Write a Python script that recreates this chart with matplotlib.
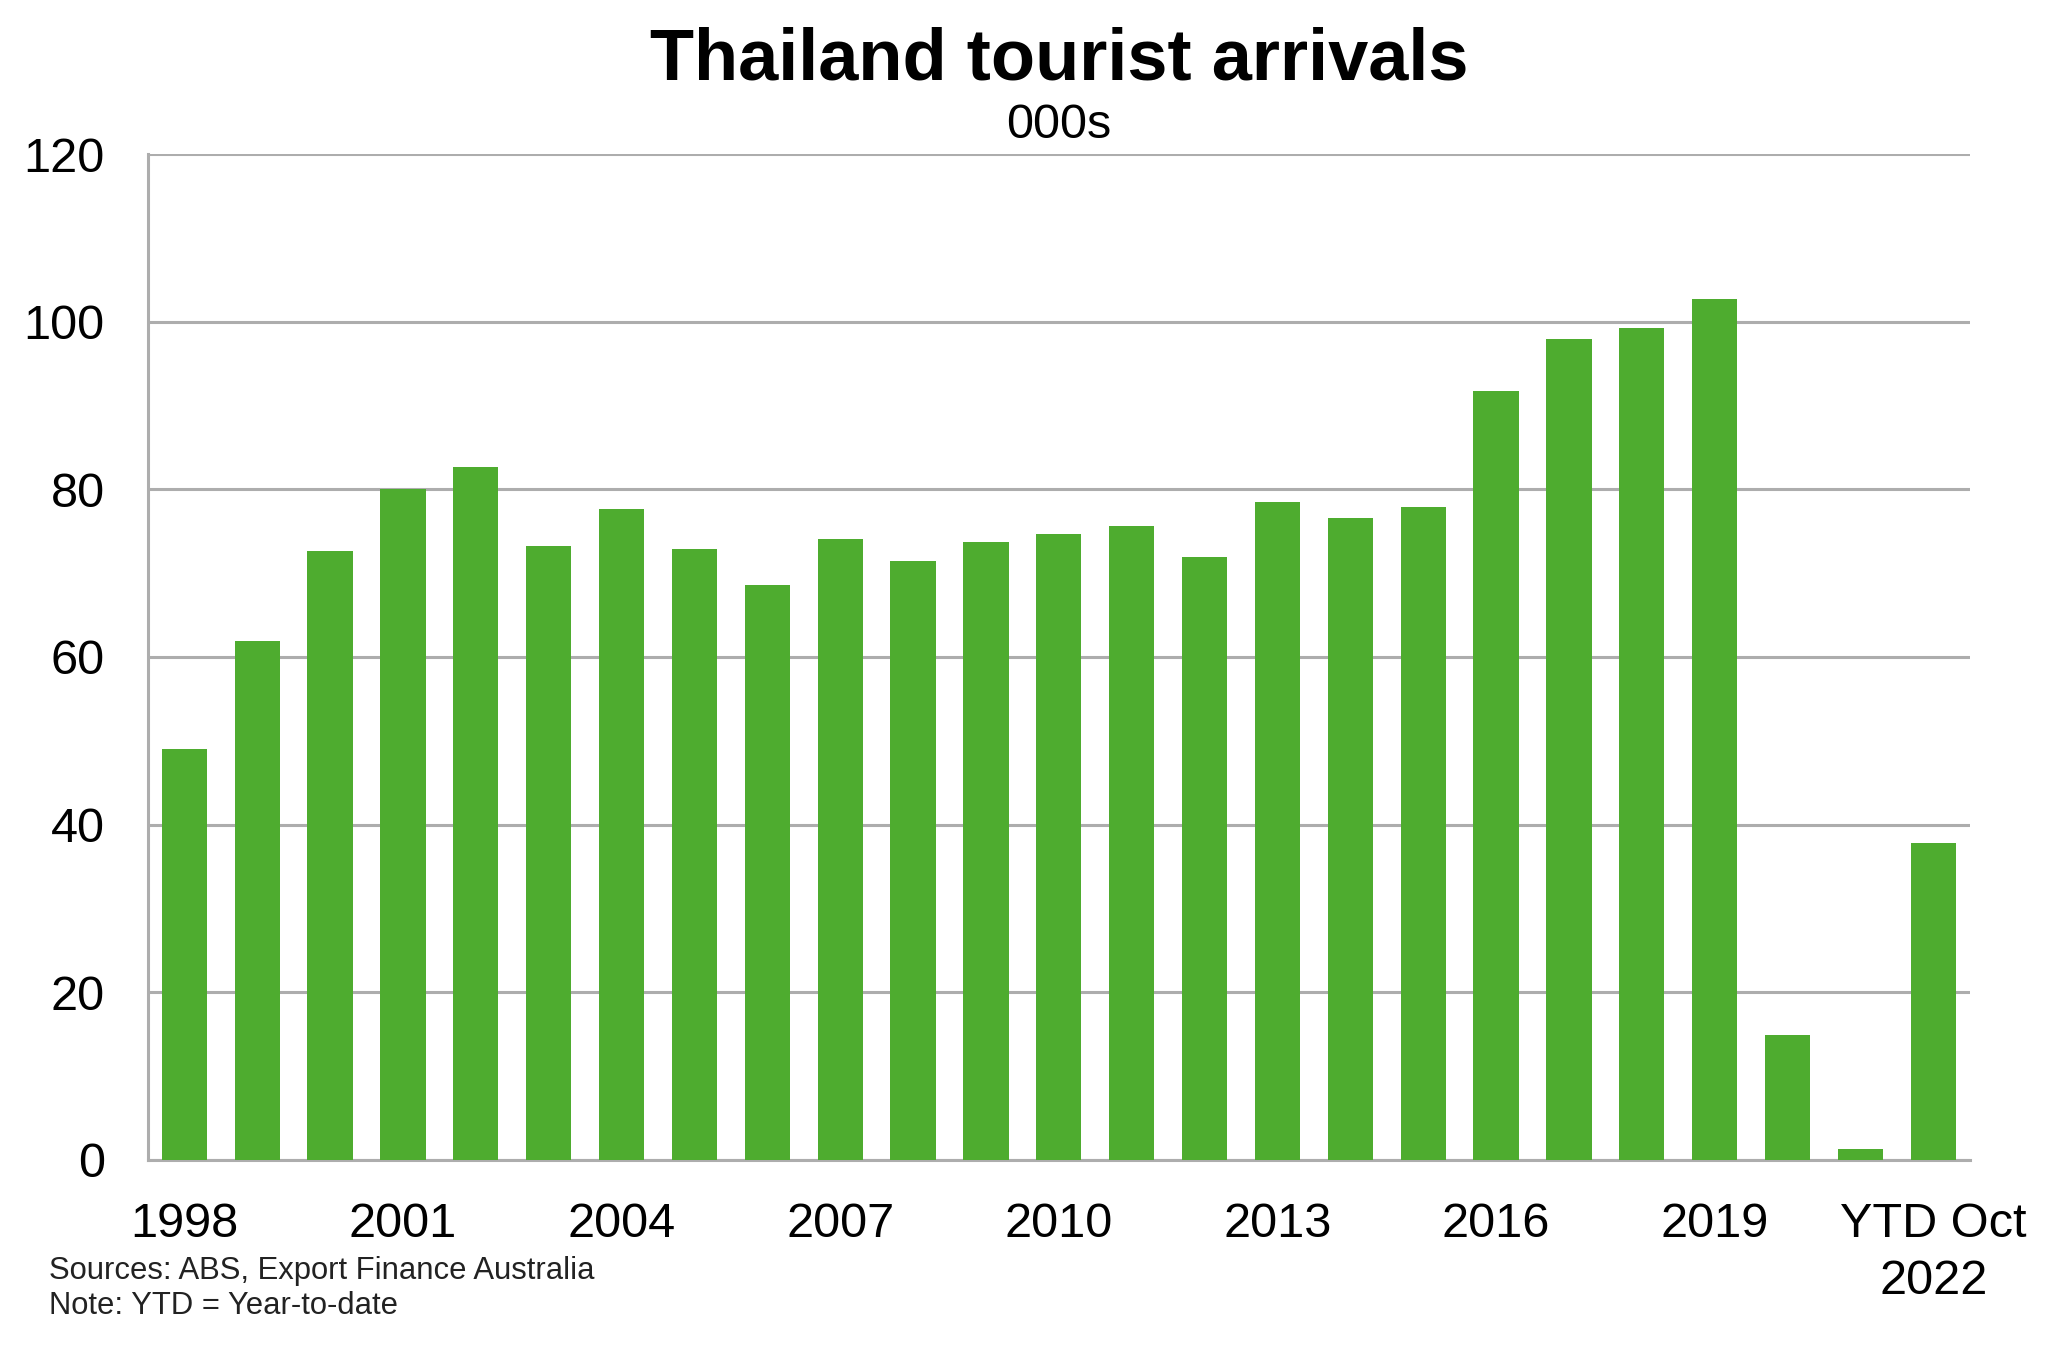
import numpy as np
import matplotlib
matplotlib.use("Agg")
import matplotlib.pyplot as plt

plt.rcParams['font.family'] = ['Liberation Sans', 'DejaVu Sans']

# Data (000s)
years = [str(y) for y in range(1998, 2022)] + ["YTD Oct\n2022"]
arrivals = [49.0, 61.9, 72.7, 80.0, 82.7, 73.2, 77.7, 72.9, 68.6, 74.1,
            71.5, 73.7, 74.7, 75.6, 71.9, 78.5, 76.6, 77.9, 91.7, 97.9,
            99.2, 102.7, 14.9, 1.3, 37.8]
tick_every = 3
yticks = [0, 20, 40, 60, 80, 100, 120]

bar_color = "#4EAC2F"
grid_color = "#ADADAD"

fig = plt.figure(figsize=(20.48, 13.45), dpi=100)
ax = fig.add_axes([0.0722, 0.1376, 0.8896, 0.7479])

x = np.arange(len(years))
ax.bar(x, arrivals, width=0.62, color=bar_color, zorder=3)

ax.set_xlim(-0.5, len(years) - 0.5)
ax.set_ylim(0, 120)
ax.set_yticks(yticks)
ax.set_yticklabels([str(v) for v in yticks])

xt = [i for i in range(len(years)) if i % tick_every == 0 and i < len(years) - 1] + [len(years) - 1]
ax.set_xticks(xt)
ax.set_xticklabels([years[i] for i in xt], linespacing=1.35)

ax.tick_params(axis='y', length=0, pad=31, labelsize=35)
ax.tick_params(axis='x', length=0, pad=30, labelsize=35)

ax.yaxis.grid(True, color=grid_color, linewidth=2.2, zorder=0)
ax.set_axisbelow(True)
for side in ['top', 'right']:
    ax.spines[side].set_visible(False)
for side in ['left', 'bottom']:
    ax.spines[side].set_color(grid_color)
    ax.spines[side].set_linewidth(2.2)

fig.text(0.517, 0.955, "Thailand tourist arrivals", ha='center', va='center',
         fontsize=52, fontweight='bold')
fig.text(0.517, 0.907, "000s", ha='center', va='center', fontsize=35)

fig.text(0.024, 0.055, "Sources: ABS, Export Finance Australia", ha='left', va='center',
         fontsize=22.3, color="#222222")
fig.text(0.024, 0.029, "Note: YTD = Year-to-date", ha='left', va='center',
         fontsize=22.3, color="#222222")

fig.savefig("out.png", dpi=100, facecolor='white')
